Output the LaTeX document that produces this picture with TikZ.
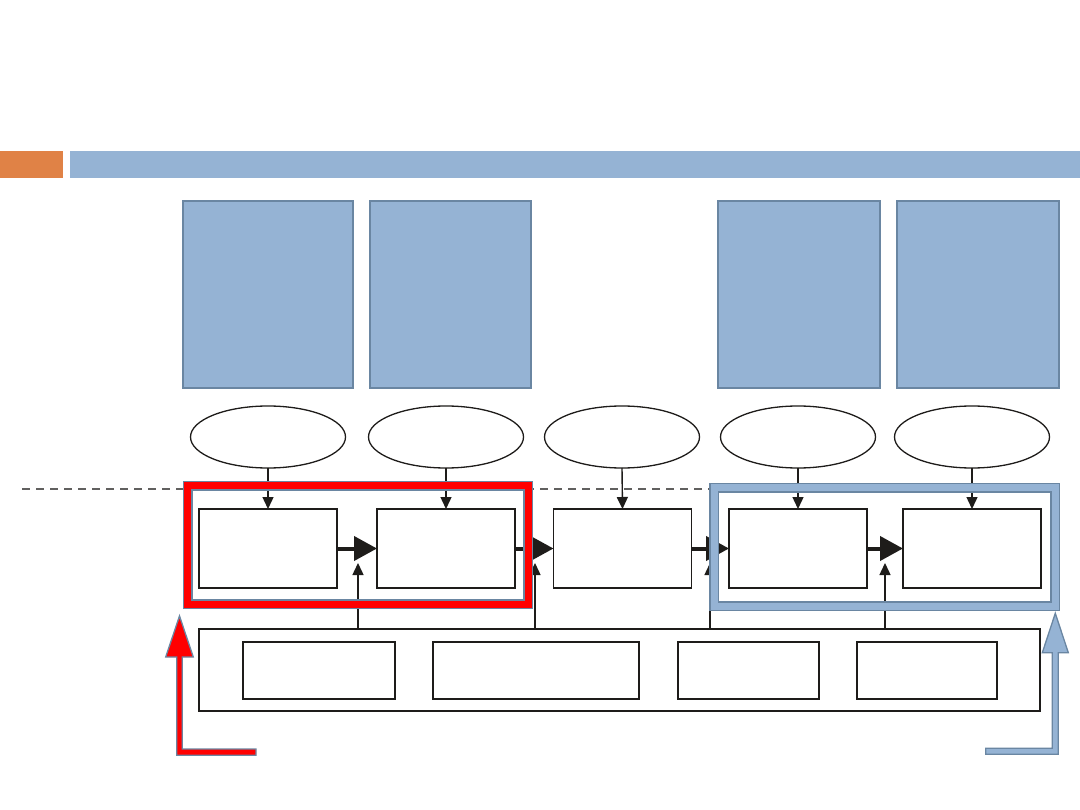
\documentclass[tikz,border=0pt]{standalone}
\usetikzlibrary{shapes.geometric,arrows.meta}
\definecolor{lblue}{HTML}{95B3D4}
\definecolor{dblue}{HTML}{6A86A2}
\definecolor{orng}{HTML}{E08246}
\definecolor{ink}{HTML}{1E1C1A}
\tikzset{
  topbox/.style={draw=dblue,fill=lblue,line width=1.5pt,minimum width=#1,minimum height=187pt,inner sep=0pt,outer sep=0pt},
  ell/.style={ellipse,draw=ink,line width=1.3pt,minimum width=155pt,minimum height=62pt,inner sep=0pt,outer sep=0pt},
  proc/.style={draw=ink,line width=1.5pt,minimum width=138pt,minimum height=79pt,inner sep=0pt,outer sep=0pt},
  sub/.style={draw=ink,line width=1.6pt,minimum width=#1,minimum height=57pt,inner sep=0pt,outer sep=0pt},
  thinarr/.style={draw=ink,line width=1.4pt,-{Triangle[length=12pt,width=11pt]}},
  thickarr/.style={draw=ink,line width=4pt,-{Triangle[length=23pt,width=24pt]}},
}
\begin{document}
\begin{tikzpicture}[x=1pt,y=-1pt]
\useasboundingbox (0,0) rectangle (1080,810);
\fill[white] (0,0) rectangle (1080,810);
% header bars
\fill[orng] (0,151) rectangle (63,178);
\fill[lblue] (70,151) rectangle (1080,178);
% top blue boxes
\node[topbox=170pt] (t1) at (268,294.5) {};
\node[topbox=161pt] (t2) at (450.5,294.5) {};
\node[topbox=162pt] (t3) at (799,294.5) {};
\node[topbox=162pt] (t4) at (978,294.5) {};
% ellipses
\node[ell] (e1) at (268,437) {};
\node[ell] (e2) at (446,437) {};
\node[ell] (e3) at (622,437) {};
\node[ell] (e4) at (798,437) {};
\node[ell] (e5) at (972,437) {};
% dashed line
\coordinate (dl) at (22,489);
\coordinate (dr) at (712,489);
\draw[color=ink!70,line width=1.2pt,dash pattern=on 8pt off 6pt] (dl) -- (dr);
% process boxes
\node[proc] (p1) at (268,548.5) {};
\node[proc] (p2) at (446,548.5) {};
\node[proc] (p3) at (622.5,548.5) {};
\node[proc] (p4) at (798,548.5) {};
\node[proc] (p5) at (972,548.5) {};
% bottom box
\node[draw=ink,line width=1.5pt,minimum width=841pt,minimum height=82pt,inner sep=0pt,outer sep=0pt] (big) at (619.5,670) {};
\node[sub=152pt] (s1) at (319,670.5) {};
\node[sub=206pt] (s2) at (536,670.5) {};
\node[sub=141pt] (s3) at (748.5,670.5) {};
\node[sub=140pt] (s4) at (927,670.5) {};
% arrows from ellipses
\draw[thinarr] (e1.south) -- (p1.north);
\draw[thinarr] (e2.south) -- (p2.north);
\draw[thinarr] (e3.south) -- (p3.north);
\draw[thinarr] (e4.south) -- (p4.north);
\draw[thinarr] (e5.south) -- (p5.north);
% up arrows from bottom box
\coordinate (u1) at (358,563);
\coordinate (u2) at (535,563);
\coordinate (u3) at (710,563);
\coordinate (u4) at (885,563);
\draw[thinarr] (u1 |- big.north) -- (u1);
\draw[thinarr] (u2 |- big.north) -- (u2);
\draw[thinarr] (u3 |- big.north) -- (u3);
\draw[thinarr] (u4 |- big.north) -- (u4);
% thick arrows
\draw[thickarr] (p1.east) -- (p2.west);
\draw[thickarr] (p2.east) -- (p3.west);
\draw[thickarr] (p3.east) -- (p4.west);
\draw[thickarr] (p4.east) -- (p5.west);
% red frame
\draw[dblue,line width=10pt] (187.7,485.7) rectangle (528,604.2);
\draw[red,line width=7pt] (187.7,485.7) rectangle (528,604.2);
% blue frame
\draw[dblue,line width=10pt] (714.3,487.7) rectangle (1055,606.2);
\draw[lblue,line width=7pt] (714.3,487.7) rectangle (1055,606.2);
% red L arrow
\filldraw[fill=red,draw=dblue,line width=1.3pt,line join=miter]
  (176.7,755.3) -- (256,755.3) -- (256,749) -- (182.3,749) -- (182.3,657)
  -- (193.3,657) -- (179.5,616) -- (165.7,657) -- (176.7,657) -- cycle;
% blue L arrow
\filldraw[fill=lblue,draw=dblue,line width=1.3pt,line join=miter]
  (985.7,748.3) -- (1052.3,748.3) -- (1052.3,652.7) -- (1042.3,652.7)
  -- (1055.3,613.3) -- (1068.3,652.7) -- (1058.3,652.7) -- (1058.3,754.3)
  -- (985.7,754.3) -- cycle;
\end{tikzpicture}
\end{document}
